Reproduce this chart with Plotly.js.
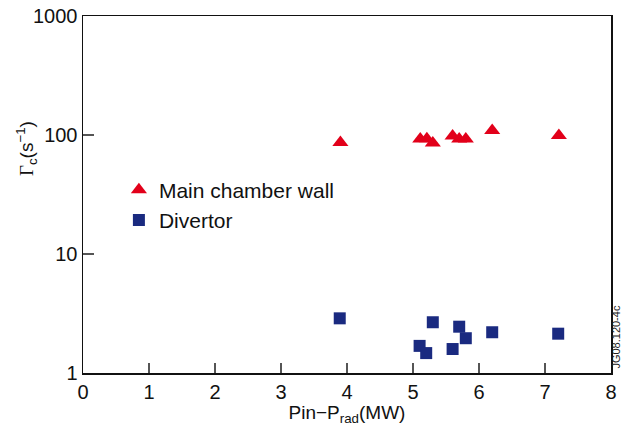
<!DOCTYPE html>
<html>
<head>
<meta charset="utf-8">
<script src="https://cdn.plot.ly/plotly-3.0.1.min.js"></script>
<style>html,body{margin:0;padding:0;background:#fff;}#chart{width:621px;height:430px;}</style>
</head>
<body>
<div id="chart"></div>
<script>
// Main chamber wall data
const wallX = [3.90, 5.11, 5.21, 5.30, 5.60, 5.70, 5.80, 6.20, 7.21];
const wallY = [86.5, 92.5, 93, 85.7, 98, 92.5, 92.5, 109, 99];
// Divertor data
const divX = [3.89, 5.10, 5.20, 5.30, 5.60, 5.70, 5.80, 6.20, 7.20];
const divY = [2.88, 1.69, 1.47, 2.67, 1.59, 2.45, 1.96, 2.20, 2.14];
const xTicks = [0, 1, 2, 3, 4, 5, 6, 7, 8];
const yTicks = [1, 10, 100, 1000];
const yTickText = ['1', '10', '100', '1000'];

const traces = [
  {x: wallX, y: wallY, type: 'scatter', mode: 'markers', name: 'Main chamber wall',
   legendgroup: 'a',
   marker: {symbol: 'triangle-up', size: 14, color: '#e2001a'}},
  {x: divX, y: divY, type: 'scatter', mode: 'markers', name: 'Divertor',
   legendgroup: 'b',
   marker: {symbol: 'square', size: 12, color: '#1a2a80'}}
];

const font = {family: 'Liberation Sans, Arial, Helvetica, sans-serif', color: '#111'};

const layout = {
  width: 621, height: 430,
  margin: {l: 83, r: 10, t: 16, b: 57},
  paper_bgcolor: '#fff', plot_bgcolor: '#fff',
  font: font,
  showlegend: true,
  legend: {x: 0.068, y: 0.57, xanchor: 'left', yanchor: 'top',
           font: {size: 21, family: font.family, color: '#111'},
           bgcolor: 'rgba(0,0,0,0)', traceorder: 'grouped', tracegroupgap: 0},
  xaxis: {
    range: [0, 8], tickvals: xTicks, ticktext: xTicks.map(String),
    ticks: 'inside', ticklen: 10, tickcolor: '#555', tickwidth: 1.3,
    showline: true, linecolor: '#111', linewidth: 1.5, mirror: true,
    showgrid: false, zeroline: false,
    tickfont: {size: 20, family: font.family, color: '#111'},
    title: {text: 'Pin−P<sub>rad</sub>(MW)', font: {size: 19, family: font.family, color: '#111'}, standoff: 4}
  },
  yaxis: {
    type: 'log', range: [0, 3], tickvals: yTicks, ticktext: yTickText,
    ticks: 'inside', ticklen: 11, tickcolor: '#555', tickwidth: 1.3,
    showline: true, linecolor: '#111', linewidth: 1.5, mirror: true,
    showgrid: false, zeroline: false,
    tickfont: {size: 20, family: font.family, color: '#111'}
  },
  annotations: [
    {text: '<span style="font-family:Liberation Serif, Times New Roman, serif">Γ</span><sub>c</sub>(s<sup>−1</sup>)',
     xref: 'paper', yref: 'paper', x: -0.108, y: 0.63,
     xanchor: 'center', yanchor: 'middle', showarrow: false, textangle: -90,
     font: {size: 19, family: font.family, color: '#111'}},
    {text: 'JG08.120-4c', xref: 'paper', yref: 'paper', x: 1.01, y: 0.10,
     xanchor: 'center', yanchor: 'middle', showarrow: false, textangle: -90,
     font: {size: 11, family: font.family, color: '#222'}}
  ]
};

Plotly.newPlot('chart', traces, layout, {displayModeBar: false, staticPlot: true});
</script>
</body>
</html>
